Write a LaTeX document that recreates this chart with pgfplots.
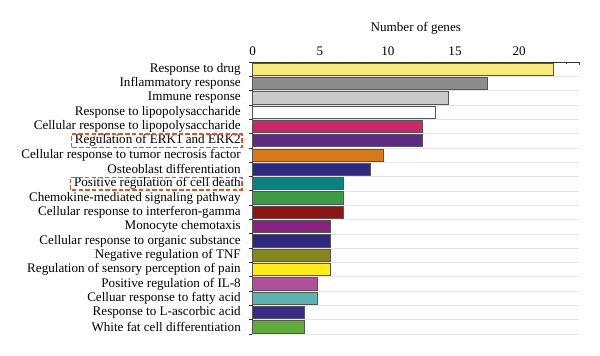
\documentclass[border=0pt]{standalone}
\usepackage{pgfplots}
\pgfplotsset{compat=1.18}
\usepackage{fontspec}
\setmainfont{Liberation Serif}
\definecolor{bd}{RGB}{85,85,85}
\definecolor{hlred}{RGB}{226,84,36}
\definecolor{cA}{RGB}{247,234,122}
\definecolor{cB}{RGB}{140,140,140}
\definecolor{cC}{RGB}{202,202,202}
\definecolor{cD}{RGB}{255,255,255}
\definecolor{cE}{RGB}{204,40,105}
\definecolor{cF}{RGB}{94,42,130}
\definecolor{cG}{RGB}{216,122,26}
\definecolor{cH}{RGB}{46,42,128}
\definecolor{cI}{RGB}{10,128,128}
\definecolor{cJ}{RGB}{61,154,69}
\definecolor{cK}{RGB}{138,21,21}
\definecolor{cL}{RGB}{138,32,128}
\definecolor{cM}{RGB}{48,40,127}
\definecolor{cN}{RGB}{135,135,31}
\definecolor{cO}{RGB}{255,235,26}
\definecolor{cP}{RGB}{176,79,154}
\definecolor{cQ}{RGB}{95,178,178}
\definecolor{cR}{RGB}{58,42,138}
\definecolor{cS}{RGB}{98,170,60}
\newcommand\lblfont{\fontsize{13.1}{15}\selectfont}
\newlength\wa \newlength\wb
\settowidth\wa{\lblfont Regulation of ERK1 and ERK2}
\settowidth\wb{\lblfont Positive regulation of cell death}
\begin{document}
\begin{tikzpicture}
\path[use as bounding box] (0,0) rectangle (600pt,356pt);
\begin{axis}[
  name=main,
  at={(252.3pt,22pt)}, anchor=south west,
  scale only axis, width=327pt, height=272pt,
  xmin=0, xmax=25, ymin=-0.5, ymax=18.5,
  axis x line*=top, axis y line*=left,
  axis line style={line width=0.8pt, black!80},
  xbar, bar width=12.3pt, bar shift=0pt,
  xtick={0,5,...,25}, xticklabels={}, minor x tick num=4,
  extra x ticks={0.03,5.17,10.37,15.5,20.4},
  extra x tick labels={0,5,10,15,20},
  extra x tick style={major tick length=0pt, xticklabel style={yshift=3pt}},
  xtick align=inside, ytick align=outside,
  major tick length=3.5pt, minor tick length=2.5pt,
  tick style={black!80, line width=0.7pt},
  ytick={-0.5,0.5,...,18.5}, yticklabels={},
  ymajorgrids, major grid style={black!10, line width=0.5pt},
  extra y ticks={0,...,18},
  extra y tick style={grid=none, major tick length=0pt},
  extra y tick labels={White fat cell differentiation, Response to L-ascorbic acid, Celluar response to fatty acid, Positive regulation of IL-8, Regulation of sensory perception of pain, Negative regulation of TNF, Cellular response to organic substance, Monocyte chemotaxis, Cellular response to interferon-gamma, Chemokine-mediated signaling pathway, Positive regulation of cell death, Osteoblast differentiation, Cellular response to tumor necrosis factor, Regulation of ERK1 and ERK2, Cellular response to lipopolysaccharide, Response to lipopolysaccharide, Immune response, Inflammatory response, Response to drug},
  tick label style={font=\lblfont},
  yticklabel style={xshift=-8pt},
  /pgf/number format/assume math mode=true,
  xlabel={Number of genes},
  xlabel style={font=\lblfont, yshift=5pt},
  every axis plot/.append style={draw=bd, line width=0.8pt},
  clip=false,
]
\addplot[fill=cA] coordinates {(23,18)};
\addplot[fill=cB] coordinates {(18,17)};
\addplot[fill=cC] coordinates {(15,16)};
\addplot[fill=cD] coordinates {(14,15)};
\addplot[fill=cE] coordinates {(13,14)};
\addplot[fill=cF] coordinates {(13,13)};
\addplot[fill=cG] coordinates {(10,12)};
\addplot[fill=cH] coordinates {(9,11)};
\addplot[fill=cI] coordinates {(7,10)};
\addplot[fill=cJ] coordinates {(7,9)};
\addplot[fill=cK] coordinates {(7,8)};
\addplot[fill=cL] coordinates {(6,7)};
\addplot[fill=cM] coordinates {(6,6)};
\addplot[fill=cN] coordinates {(6,5)};
\addplot[fill=cO] coordinates {(6,4)};
\addplot[fill=cP] coordinates {(5,3)};
\addplot[fill=cQ] coordinates {(5,2)};
\addplot[fill=cR] coordinates {(4,1)};
\addplot[fill=cS] coordinates {(4,0)};
\coordinate (erk) at (axis cs:0,13);
\coordinate (death) at (axis cs:0,10);
\end{axis}
\draw[draw=hlred, line width=1.6pt, dash pattern=on 4.5pt off 2.2pt]
  ([xshift=-10.5pt-\wb-4.5pt, yshift=-6.3pt]death) rectangle ([xshift=-10.5pt, yshift=6.3pt]death);
\draw[draw=hlred, line width=1.6pt, dash pattern=on 4.5pt off 2.2pt]
  ([xshift=-10.5pt-\wa-4.5pt, yshift=-6.6pt]erk) rectangle ([xshift=-10.5pt, yshift=6.6pt]erk);
\end{tikzpicture}
\end{document}
